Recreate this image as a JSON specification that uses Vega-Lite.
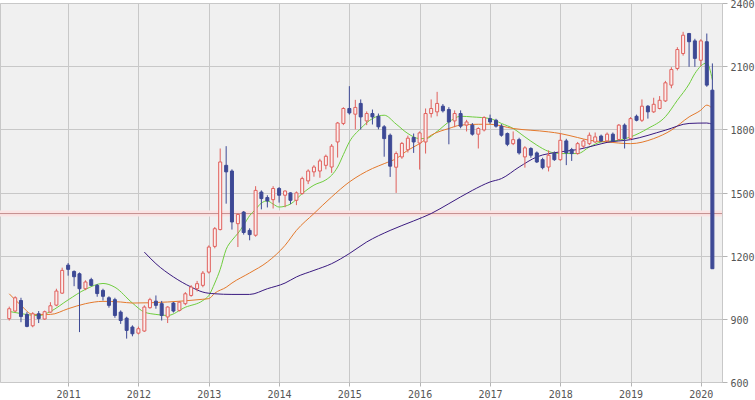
{
  "$schema": "https://vega.github.io/schema/vega-lite/v6.json",
  "width": 722,
  "height": 379,
  "autosize": {"type": "none"},
  "padding": {"left": 0, "top": 3, "right": 33, "bottom": 18},
  "background": "#ffffff",
  "config": {
    "view": {"fill": "#f0f0f0", "stroke": "#c8c8c8"},
    "axis": {
      "gridColor": "#c8c8c8",
      "tickColor": "#b4b4b4",
      "labelColor": "#555555",
      "labelFont": "DejaVu Sans Mono",
      "labelFontSize": 10,
      "domain": false
    }
  },
  "datasets": {
    "prices": [
      {"date": "2010-03-01", "open": 901, "high": 958, "low": 892, "close": 948},
      {"date": "2010-04-01", "open": 937, "high": 1007, "low": 932, "close": 1000},
      {"date": "2010-05-01", "open": 987, "high": 1000, "low": 884, "close": 911},
      {"date": "2010-06-01", "open": 921, "high": 932, "low": 860, "close": 864},
      {"date": "2010-07-01", "open": 867, "high": 932, "low": 860, "close": 924},
      {"date": "2010-08-01", "open": 924, "high": 937, "low": 880, "close": 901},
      {"date": "2010-09-01", "open": 899, "high": 939, "low": 895, "close": 934},
      {"date": "2010-10-01", "open": 932, "high": 979, "low": 928, "close": 962},
      {"date": "2010-11-01", "open": 965, "high": 1043, "low": 960, "close": 1032},
      {"date": "2010-12-01", "open": 1022, "high": 1143, "low": 1018, "close": 1130},
      {"date": "2011-01-01", "open": 1155, "high": 1165, "low": 1105, "close": 1135},
      {"date": "2011-02-01", "open": 1125, "high": 1130, "low": 1055, "close": 1100},
      {"date": "2011-03-01", "open": 1114, "high": 1120, "low": 837, "close": 1043},
      {"date": "2011-04-01", "open": 1043, "high": 1083, "low": 1036, "close": 1075},
      {"date": "2011-05-01", "open": 1086, "high": 1095, "low": 1055, "close": 1059},
      {"date": "2011-06-01", "open": 1059, "high": 1065, "low": 1005, "close": 1020},
      {"date": "2011-07-01", "open": 1035, "high": 1043, "low": 987, "close": 1007},
      {"date": "2011-08-01", "open": 1000, "high": 1007, "low": 953, "close": 964},
      {"date": "2011-09-01", "open": 991, "high": 1000, "low": 905, "close": 916},
      {"date": "2011-10-01", "open": 932, "high": 940, "low": 876, "close": 892},
      {"date": "2011-11-01", "open": 903, "high": 910, "low": 806, "close": 845},
      {"date": "2011-12-01", "open": 861, "high": 869, "low": 817, "close": 829},
      {"date": "2012-01-01", "open": 832, "high": 863, "low": 826, "close": 853},
      {"date": "2012-02-01", "open": 842, "high": 964, "low": 838, "close": 956},
      {"date": "2012-03-01", "open": 953, "high": 1000, "low": 948, "close": 991},
      {"date": "2012-04-01", "open": 984, "high": 1011, "low": 948, "close": 964},
      {"date": "2012-05-01", "open": 972, "high": 985, "low": 892, "close": 916},
      {"date": "2012-06-01", "open": 909, "high": 960, "low": 880, "close": 956},
      {"date": "2012-07-01", "open": 975, "high": 980, "low": 930, "close": 937},
      {"date": "2012-08-01", "open": 940, "high": 983, "low": 935, "close": 979},
      {"date": "2012-09-01", "open": 972, "high": 1027, "low": 965, "close": 1019},
      {"date": "2012-10-01", "open": 1011, "high": 1060, "low": 1005, "close": 1051},
      {"date": "2012-11-01", "open": 1043, "high": 1080, "low": 1030, "close": 1067},
      {"date": "2012-12-01", "open": 1059, "high": 1127, "low": 1050, "close": 1117},
      {"date": "2013-01-01", "open": 1122, "high": 1249, "low": 1115, "close": 1241},
      {"date": "2013-02-01", "open": 1244, "high": 1336, "low": 1235, "close": 1328},
      {"date": "2013-03-01", "open": 1324, "high": 1709, "low": 1320, "close": 1645},
      {"date": "2013-04-01", "open": 1629, "high": 1720, "low": 1447, "close": 1598},
      {"date": "2013-05-01", "open": 1602, "high": 1610, "low": 1324, "close": 1360},
      {"date": "2013-06-01", "open": 1352, "high": 1400, "low": 1241, "close": 1396},
      {"date": "2013-07-01", "open": 1407, "high": 1412, "low": 1300, "close": 1310},
      {"date": "2013-08-01", "open": 1320, "high": 1330, "low": 1273, "close": 1300},
      {"date": "2013-09-01", "open": 1297, "high": 1530, "low": 1290, "close": 1510},
      {"date": "2013-10-01", "open": 1502, "high": 1510, "low": 1420, "close": 1471},
      {"date": "2013-11-01", "open": 1476, "high": 1487, "low": 1429, "close": 1460},
      {"date": "2013-12-01", "open": 1466, "high": 1530, "low": 1424, "close": 1519},
      {"date": "2014-01-01", "open": 1519, "high": 1526, "low": 1452, "close": 1487},
      {"date": "2014-02-01", "open": 1487, "high": 1510, "low": 1430, "close": 1507},
      {"date": "2014-03-01", "open": 1498, "high": 1501, "low": 1445, "close": 1463},
      {"date": "2014-04-01", "open": 1463, "high": 1505, "low": 1440, "close": 1498},
      {"date": "2014-05-01", "open": 1495, "high": 1575, "low": 1490, "close": 1566},
      {"date": "2014-06-01", "open": 1555, "high": 1610, "low": 1540, "close": 1602},
      {"date": "2014-07-01", "open": 1598, "high": 1630, "low": 1575, "close": 1621},
      {"date": "2014-08-01", "open": 1602, "high": 1660, "low": 1570, "close": 1650},
      {"date": "2014-09-01", "open": 1629, "high": 1680, "low": 1610, "close": 1672},
      {"date": "2014-10-01", "open": 1621, "high": 1730, "low": 1593, "close": 1720},
      {"date": "2014-11-01", "open": 1740, "high": 1835, "low": 1666, "close": 1830},
      {"date": "2014-12-01", "open": 1828, "high": 1905, "low": 1820, "close": 1899},
      {"date": "2015-01-01", "open": 1899, "high": 2005, "low": 1870, "close": 1878},
      {"date": "2015-02-01", "open": 1872, "high": 1940, "low": 1800, "close": 1904},
      {"date": "2015-03-01", "open": 1923, "high": 1942, "low": 1799, "close": 1859},
      {"date": "2015-04-01", "open": 1840, "high": 1885, "low": 1820, "close": 1875},
      {"date": "2015-05-01", "open": 1875, "high": 1894, "low": 1823, "close": 1859},
      {"date": "2015-06-01", "open": 1862, "high": 1875, "low": 1800, "close": 1812},
      {"date": "2015-07-01", "open": 1812, "high": 1820, "low": 1670, "close": 1756},
      {"date": "2015-08-01", "open": 1772, "high": 1780, "low": 1574, "close": 1625},
      {"date": "2015-09-01", "open": 1620, "high": 1695, "low": 1498, "close": 1685},
      {"date": "2015-10-01", "open": 1669, "high": 1740, "low": 1660, "close": 1733},
      {"date": "2015-11-01", "open": 1703, "high": 1770, "low": 1690, "close": 1758},
      {"date": "2015-12-01", "open": 1761, "high": 1780, "low": 1688, "close": 1740},
      {"date": "2016-01-01", "open": 1735, "high": 1790, "low": 1609, "close": 1783},
      {"date": "2016-02-01", "open": 1740, "high": 1899, "low": 1685, "close": 1875},
      {"date": "2016-03-01", "open": 1875, "high": 1942, "low": 1856, "close": 1899},
      {"date": "2016-04-01", "open": 1883, "high": 1978, "low": 1862, "close": 1923},
      {"date": "2016-05-01", "open": 1910, "high": 1920, "low": 1880, "close": 1888},
      {"date": "2016-06-01", "open": 1894, "high": 1905, "low": 1729, "close": 1835},
      {"date": "2016-07-01", "open": 1840, "high": 1890, "low": 1810, "close": 1875},
      {"date": "2016-08-01", "open": 1875, "high": 1890, "low": 1805, "close": 1815},
      {"date": "2016-09-01", "open": 1820, "high": 1845, "low": 1790, "close": 1835},
      {"date": "2016-10-01", "open": 1820, "high": 1830, "low": 1770, "close": 1777},
      {"date": "2016-11-01", "open": 1777, "high": 1810, "low": 1709, "close": 1804},
      {"date": "2016-12-01", "open": 1797, "high": 1862, "low": 1790, "close": 1856},
      {"date": "2017-01-01", "open": 1851, "high": 1870, "low": 1825, "close": 1835},
      {"date": "2017-02-01", "open": 1843, "high": 1850, "low": 1808, "close": 1815},
      {"date": "2017-03-01", "open": 1815, "high": 1825, "low": 1765, "close": 1772},
      {"date": "2017-04-01", "open": 1780, "high": 1785, "low": 1720, "close": 1729},
      {"date": "2017-05-01", "open": 1732, "high": 1790, "low": 1725, "close": 1751},
      {"date": "2017-06-01", "open": 1751, "high": 1760, "low": 1680, "close": 1688},
      {"date": "2017-07-01", "open": 1669, "high": 1720, "low": 1618, "close": 1712},
      {"date": "2017-08-01", "open": 1709, "high": 1715, "low": 1665, "close": 1677},
      {"date": "2017-09-01", "open": 1688, "high": 1695, "low": 1640, "close": 1645},
      {"date": "2017-10-01", "open": 1656, "high": 1665, "low": 1610, "close": 1618},
      {"date": "2017-11-01", "open": 1621, "high": 1700, "low": 1600, "close": 1677},
      {"date": "2017-12-01", "open": 1685, "high": 1695, "low": 1650, "close": 1656},
      {"date": "2018-01-01", "open": 1656, "high": 1780, "low": 1650, "close": 1748},
      {"date": "2018-02-01", "open": 1745, "high": 1755, "low": 1630, "close": 1688},
      {"date": "2018-03-01", "open": 1704, "high": 1712, "low": 1650, "close": 1685},
      {"date": "2018-04-01", "open": 1685, "high": 1740, "low": 1680, "close": 1732},
      {"date": "2018-05-01", "open": 1720, "high": 1752, "low": 1712, "close": 1745},
      {"date": "2018-06-01", "open": 1732, "high": 1785, "low": 1725, "close": 1772},
      {"date": "2018-07-01", "open": 1740, "high": 1785, "low": 1735, "close": 1764},
      {"date": "2018-08-01", "open": 1768, "high": 1775, "low": 1740, "close": 1745},
      {"date": "2018-09-01", "open": 1745, "high": 1785, "low": 1740, "close": 1777},
      {"date": "2018-10-01", "open": 1777, "high": 1785, "low": 1740, "close": 1745},
      {"date": "2018-11-01", "open": 1752, "high": 1825, "low": 1748, "close": 1820},
      {"date": "2018-12-01", "open": 1820, "high": 1828, "low": 1709, "close": 1756},
      {"date": "2019-01-01", "open": 1756, "high": 1858, "low": 1750, "close": 1851},
      {"date": "2019-02-01", "open": 1862, "high": 1870, "low": 1838, "close": 1843},
      {"date": "2019-03-01", "open": 1843, "high": 1942, "low": 1835, "close": 1910},
      {"date": "2019-04-01", "open": 1910, "high": 1915, "low": 1851, "close": 1883},
      {"date": "2019-05-01", "open": 1883, "high": 1950, "low": 1878, "close": 1919},
      {"date": "2019-06-01", "open": 1899, "high": 1958, "low": 1895, "close": 1938},
      {"date": "2019-07-01", "open": 1935, "high": 2030, "low": 1930, "close": 2021},
      {"date": "2019-08-01", "open": 2010, "high": 2095, "low": 1995, "close": 2084},
      {"date": "2019-09-01", "open": 2089, "high": 2190, "low": 2080, "close": 2179},
      {"date": "2019-10-01", "open": 2160, "high": 2263, "low": 2150, "close": 2247},
      {"date": "2019-11-01", "open": 2255, "high": 2258, "low": 2097, "close": 2216},
      {"date": "2019-12-01", "open": 2220, "high": 2230, "low": 2097, "close": 2137},
      {"date": "2020-01-01", "open": 2128, "high": 2228, "low": 2100, "close": 2220},
      {"date": "2020-02-01", "open": 2216, "high": 2255, "low": 2002, "close": 2010},
      {"date": "2020-03-01", "open": 1986, "high": 2113, "low": 1138, "close": 1138}
    ],
    "ma": [
      {"date": "2010-03-01", "line": "short", "value": 935},
      {"date": "2010-05-01", "line": "short", "value": 925},
      {"date": "2010-08-01", "line": "short", "value": 915},
      {"date": "2010-10-01", "line": "short", "value": 935},
      {"date": "2011-01-01", "line": "short", "value": 990},
      {"date": "2011-04-01", "line": "short", "value": 1040},
      {"date": "2011-07-01", "line": "short", "value": 1068},
      {"date": "2011-09-01", "line": "short", "value": 1050},
      {"date": "2011-12-01", "line": "short", "value": 975},
      {"date": "2012-02-01", "line": "short", "value": 932},
      {"date": "2012-04-01", "line": "short", "value": 921},
      {"date": "2012-06-01", "line": "short", "value": 916},
      {"date": "2012-09-01", "line": "short", "value": 955},
      {"date": "2012-12-01", "line": "short", "value": 987},
      {"date": "2013-01-01", "line": "short", "value": 1011},
      {"date": "2013-02-01", "line": "short", "value": 1070},
      {"date": "2013-03-01", "line": "short", "value": 1135},
      {"date": "2013-04-01", "line": "short", "value": 1230},
      {"date": "2013-05-01", "line": "short", "value": 1273},
      {"date": "2013-06-01", "line": "short", "value": 1306},
      {"date": "2013-07-01", "line": "short", "value": 1345},
      {"date": "2013-08-01", "line": "short", "value": 1390},
      {"date": "2013-09-01", "line": "short", "value": 1420},
      {"date": "2013-10-01", "line": "short", "value": 1450},
      {"date": "2013-11-01", "line": "short", "value": 1460},
      {"date": "2013-12-01", "line": "short", "value": 1445},
      {"date": "2014-01-01", "line": "short", "value": 1431},
      {"date": "2014-03-01", "line": "short", "value": 1445},
      {"date": "2014-05-01", "line": "short", "value": 1495},
      {"date": "2014-07-01", "line": "short", "value": 1535},
      {"date": "2014-09-01", "line": "short", "value": 1560},
      {"date": "2014-10-01", "line": "short", "value": 1582},
      {"date": "2014-11-01", "line": "short", "value": 1621},
      {"date": "2014-12-01", "line": "short", "value": 1680},
      {"date": "2015-01-01", "line": "short", "value": 1740},
      {"date": "2015-03-01", "line": "short", "value": 1804},
      {"date": "2015-05-01", "line": "short", "value": 1851},
      {"date": "2015-07-01", "line": "short", "value": 1867},
      {"date": "2015-09-01", "line": "short", "value": 1825},
      {"date": "2015-11-01", "line": "short", "value": 1780},
      {"date": "2016-01-01", "line": "short", "value": 1756},
      {"date": "2016-02-01", "line": "short", "value": 1756},
      {"date": "2016-04-01", "line": "short", "value": 1790},
      {"date": "2016-06-01", "line": "short", "value": 1835},
      {"date": "2016-08-01", "line": "short", "value": 1862},
      {"date": "2016-10-01", "line": "short", "value": 1859},
      {"date": "2017-01-01", "line": "short", "value": 1851},
      {"date": "2017-03-01", "line": "short", "value": 1828},
      {"date": "2017-05-01", "line": "short", "value": 1804},
      {"date": "2017-07-01", "line": "short", "value": 1764},
      {"date": "2017-09-01", "line": "short", "value": 1725},
      {"date": "2017-11-01", "line": "short", "value": 1695},
      {"date": "2018-01-01", "line": "short", "value": 1685},
      {"date": "2018-04-01", "line": "short", "value": 1685},
      {"date": "2018-06-01", "line": "short", "value": 1716},
      {"date": "2018-08-01", "line": "short", "value": 1740},
      {"date": "2018-11-01", "line": "short", "value": 1748},
      {"date": "2019-01-01", "line": "short", "value": 1764},
      {"date": "2019-04-01", "line": "short", "value": 1804},
      {"date": "2019-07-01", "line": "short", "value": 1860},
      {"date": "2019-09-01", "line": "short", "value": 1938},
      {"date": "2019-11-01", "line": "short", "value": 2015},
      {"date": "2019-12-01", "line": "short", "value": 2065},
      {"date": "2020-02-01", "line": "short", "value": 2115},
      {"date": "2020-03-01", "line": "short", "value": 2035},
      {"date": "2010-03-01", "line": "mid", "value": 1019},
      {"date": "2010-05-01", "line": "mid", "value": 964},
      {"date": "2010-07-01", "line": "mid", "value": 921},
      {"date": "2010-10-01", "line": "mid", "value": 921},
      {"date": "2011-01-01", "line": "mid", "value": 948},
      {"date": "2011-04-01", "line": "mid", "value": 972},
      {"date": "2011-07-01", "line": "mid", "value": 983},
      {"date": "2011-10-01", "line": "mid", "value": 980},
      {"date": "2011-12-01", "line": "mid", "value": 975},
      {"date": "2012-06-01", "line": "mid", "value": 980},
      {"date": "2012-12-01", "line": "mid", "value": 993},
      {"date": "2013-01-01", "line": "mid", "value": 996},
      {"date": "2013-02-01", "line": "mid", "value": 1022},
      {"date": "2013-04-01", "line": "mid", "value": 1050},
      {"date": "2013-05-01", "line": "mid", "value": 1070},
      {"date": "2013-08-01", "line": "mid", "value": 1118},
      {"date": "2013-11-01", "line": "mid", "value": 1170},
      {"date": "2014-02-01", "line": "mid", "value": 1249},
      {"date": "2014-04-01", "line": "mid", "value": 1320},
      {"date": "2014-07-01", "line": "mid", "value": 1400},
      {"date": "2014-10-01", "line": "mid", "value": 1479},
      {"date": "2015-01-01", "line": "mid", "value": 1550},
      {"date": "2015-03-01", "line": "mid", "value": 1585},
      {"date": "2015-05-01", "line": "mid", "value": 1614},
      {"date": "2015-07-01", "line": "mid", "value": 1637},
      {"date": "2015-09-01", "line": "mid", "value": 1661},
      {"date": "2015-11-01", "line": "mid", "value": 1701},
      {"date": "2016-01-01", "line": "mid", "value": 1732},
      {"date": "2016-03-01", "line": "mid", "value": 1772},
      {"date": "2016-06-01", "line": "mid", "value": 1804},
      {"date": "2016-08-01", "line": "mid", "value": 1820},
      {"date": "2016-11-01", "line": "mid", "value": 1824},
      {"date": "2017-01-01", "line": "mid", "value": 1824},
      {"date": "2017-05-01", "line": "mid", "value": 1804},
      {"date": "2017-11-01", "line": "mid", "value": 1788},
      {"date": "2018-01-01", "line": "mid", "value": 1780},
      {"date": "2018-04-01", "line": "mid", "value": 1761},
      {"date": "2018-06-01", "line": "mid", "value": 1748},
      {"date": "2018-09-01", "line": "mid", "value": 1740},
      {"date": "2019-01-01", "line": "mid", "value": 1732},
      {"date": "2019-05-01", "line": "mid", "value": 1756},
      {"date": "2019-08-01", "line": "mid", "value": 1796},
      {"date": "2019-11-01", "line": "mid", "value": 1859},
      {"date": "2020-01-01", "line": "mid", "value": 1891},
      {"date": "2020-02-01", "line": "mid", "value": 1915},
      {"date": "2020-03-01", "line": "mid", "value": 1899},
      {"date": "2012-02-01", "line": "long", "value": 1217},
      {"date": "2012-04-01", "line": "long", "value": 1162},
      {"date": "2012-07-01", "line": "long", "value": 1099},
      {"date": "2012-10-01", "line": "long", "value": 1051},
      {"date": "2012-12-01", "line": "long", "value": 1027},
      {"date": "2013-02-01", "line": "long", "value": 1019},
      {"date": "2013-05-01", "line": "long", "value": 1016},
      {"date": "2013-08-01", "line": "long", "value": 1016},
      {"date": "2013-11-01", "line": "long", "value": 1043},
      {"date": "2014-02-01", "line": "long", "value": 1070},
      {"date": "2014-04-01", "line": "long", "value": 1099},
      {"date": "2014-07-01", "line": "long", "value": 1130},
      {"date": "2014-10-01", "line": "long", "value": 1162},
      {"date": "2015-01-01", "line": "long", "value": 1210},
      {"date": "2015-04-01", "line": "long", "value": 1265},
      {"date": "2015-08-01", "line": "long", "value": 1320},
      {"date": "2015-12-01", "line": "long", "value": 1365},
      {"date": "2016-03-01", "line": "long", "value": 1400},
      {"date": "2016-06-01", "line": "long", "value": 1447},
      {"date": "2016-10-01", "line": "long", "value": 1510},
      {"date": "2017-01-01", "line": "long", "value": 1550},
      {"date": "2017-03-01", "line": "long", "value": 1566},
      {"date": "2017-06-01", "line": "long", "value": 1621},
      {"date": "2017-09-01", "line": "long", "value": 1669},
      {"date": "2018-01-01", "line": "long", "value": 1693},
      {"date": "2018-04-01", "line": "long", "value": 1704},
      {"date": "2018-07-01", "line": "long", "value": 1724},
      {"date": "2018-09-01", "line": "long", "value": 1738},
      {"date": "2019-01-01", "line": "long", "value": 1751},
      {"date": "2019-07-01", "line": "long", "value": 1796},
      {"date": "2019-11-01", "line": "long", "value": 1828},
      {"date": "2020-02-01", "line": "long", "value": 1830},
      {"date": "2020-03-01", "line": "long", "value": 1824}
    ]
  },
  "layer": [
    {
      "data": {"values": [{"level": 1400}]},
      "mark": {"type": "rule", "stroke": "#fae3e3", "strokeWidth": 6},
      "encoding": {
        "y": {"field": "level", "type": "quantitative", "title": null}
      }
    },
    {
      "data": {"values": [{"level": 1400}]},
      "mark": {"type": "rule", "stroke": "#c48e8e", "strokeWidth": 1},
      "encoding": {
        "y": {"field": "level", "type": "quantitative", "title": null}
      }
    },
    {
      "data": {"name": "ma"},
      "mark": {"type": "line", "interpolate": "monotone"},
      "encoding": {
        "x": {
          "field": "date",
          "type": "temporal",
          "title": null,
          "scale": {
            "type": "utc",
            "domain": [
              {"year": 2010, "month": 2, "date": 7, "utc": true},
              {"year": 2020, "month": 3, "date": 25, "utc": true}
            ]
          },
          "axis": {
            "values": [
              {"year": 2011, "month": 1, "date": 1, "utc": true},
              {"year": 2012, "month": 1, "date": 1, "utc": true},
              {"year": 2013, "month": 1, "date": 1, "utc": true},
              {"year": 2014, "month": 1, "date": 1, "utc": true},
              {"year": 2015, "month": 1, "date": 1, "utc": true},
              {"year": 2016, "month": 1, "date": 1, "utc": true},
              {"year": 2017, "month": 1, "date": 1, "utc": true},
              {"year": 2018, "month": 1, "date": 1, "utc": true},
              {"year": 2019, "month": 1, "date": 1, "utc": true},
              {"year": 2020, "month": 1, "date": 1, "utc": true}
            ],
            "format": "%Y",
            "formatType": "utc",
            "grid": true,
            "tickSize": 4,
            "labelPadding": 3,
            "labelFlush": false
          }
        },
        "y": {
          "field": "value",
          "type": "quantitative",
          "title": null,
          "scale": {"domain": [600, 2400], "nice": false, "zero": false},
          "axis": {
            "orient": "right",
            "values": [600, 900, 1200, 1500, 1800, 2100, 2400],
            "format": "d",
            "grid": true,
            "tickSize": 5,
            "labelPadding": 3,
            "labelAlign": "left",
            "labelBaseline": "middle",
            "labelOffset": 1.5
          }
        },
        "color": {
          "field": "line",
          "type": "nominal",
          "legend": null,
          "scale": {
            "domain": ["short", "mid", "long"],
            "range": ["#6fcd3e", "#e4792c", "#3a1a80"]
          }
        },
        "strokeWidth": {
          "field": "line",
          "type": "nominal",
          "legend": null,
          "scale": {
            "domain": ["short", "mid", "long"],
            "range": [1, 1, 1.3]
          }
        }
      }
    },
    {
      "data": {"name": "prices"},
      "mark": {"type": "rule", "strokeWidth": 1},
      "encoding": {
        "x": {"field": "date", "type": "temporal", "title": null},
        "y": {"field": "low", "type": "quantitative", "title": null},
        "y2": {"field": "high"},
        "color": {
          "condition": {"test": "datum.close >= datum.open", "value": "#e0605c"},
          "value": "#3d4995"
        }
      }
    },
    {
      "data": {"name": "prices"},
      "mark": {"type": "bar", "size": 3, "strokeWidth": 1},
      "encoding": {
        "x": {"field": "date", "type": "temporal", "title": null},
        "y": {"field": "open", "type": "quantitative", "title": null},
        "y2": {"field": "close"},
        "fill": {
          "condition": {"test": "datum.close >= datum.open", "value": "#fbeeee"},
          "value": "#3d4995"
        },
        "stroke": {
          "condition": {"test": "datum.close >= datum.open", "value": "#e0605c"},
          "value": "#3d4995"
        }
      }
    }
  ]
}
